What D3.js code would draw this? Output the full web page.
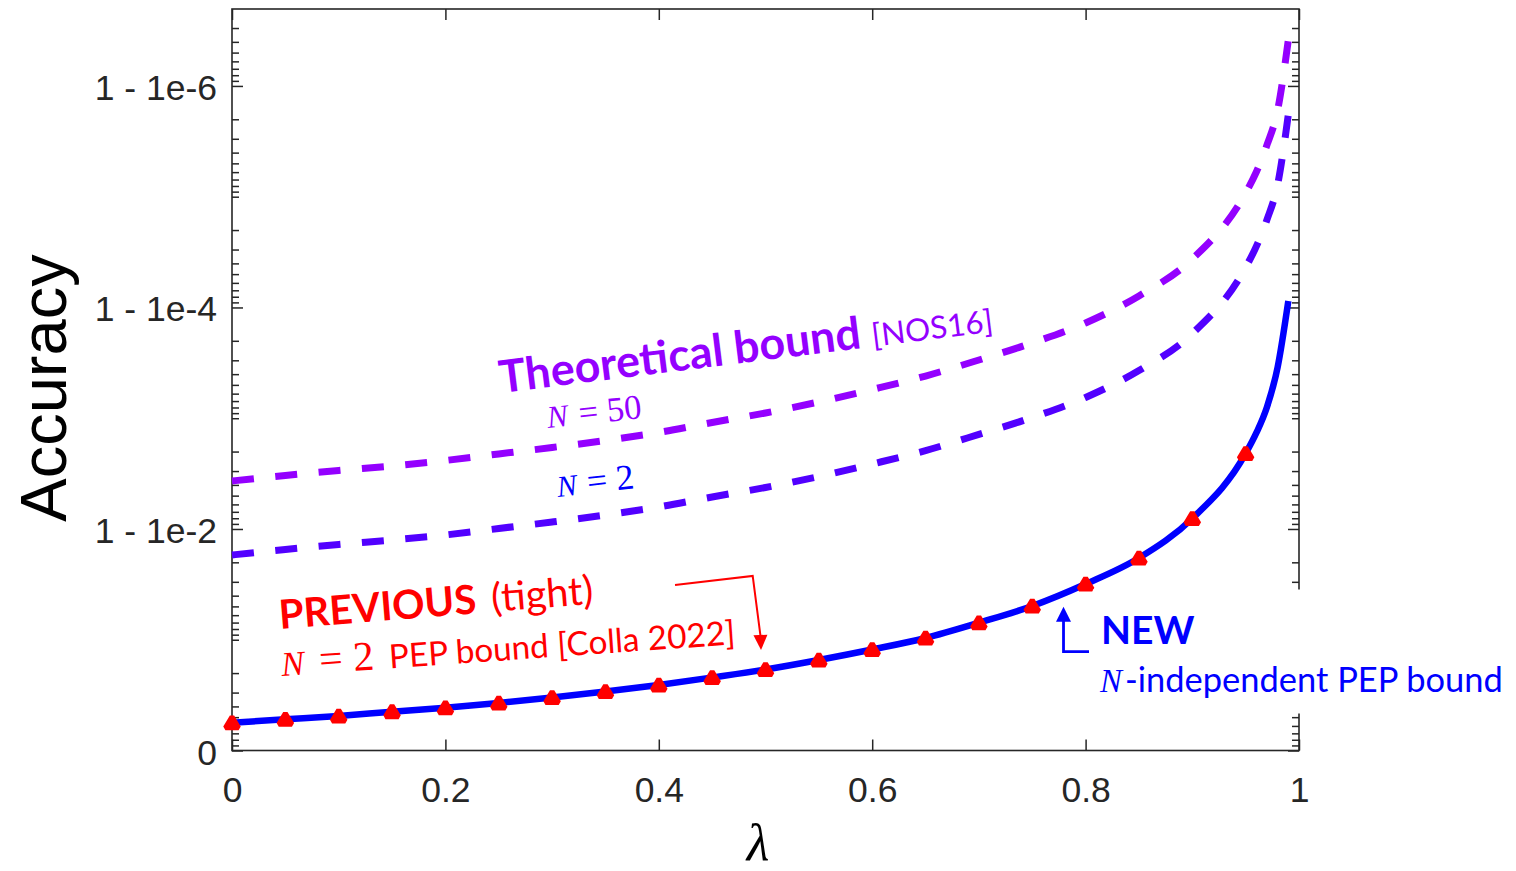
<!DOCTYPE html>
<html><head><meta charset="utf-8">
<script src="https://cdn.jsdelivr.net/npm/d3@7"></script>
<style>body{margin:0;background:#fff;} svg{display:block;}</style>
</head><body>
<svg id="chart" width="1516" height="871"></svg>
<script>
// ---------------- data ----------------
// step size lambda
const lambda = [0,0.05,0.1,0.15,0.2,0.25,0.3,0.35,0.4,0.45,0.5,0.55,0.6,0.65,0.7,0.75,0.8,0.85,0.9,0.95,0.96,0.97,0.98,0.99];
// 1 - accuracy, NEW N-independent PEP bound (solid blue)
const newBound = [0.561,0.523,0.488,0.446,0.411,0.3725,0.332,0.293,0.256,0.219,0.1856,0.1523,0.1225,0.0964,0.0702,0.0496,0.0314,0.01828,0.00804,0.00208,0.001358,0.000791,0.000345,8.73e-5];
// 1 - accuracy, theoretical bound [NOS16], N = 50 (dashed violet)
const theoryN50 = [0.003687,0.003287,0.002963,0.002699,0.002407,0.002102,0.001837,0.001588,0.001345,0.001092,0.000897,0.000713,0.000550,0.000416,0.000298,0.000209,0.000138,7.87e-5,3.65e-5,9.25e-6,5.98e-6,3.41e-6,1.65e-6,3.84e-7];
// 1 - accuracy, theoretical bound [NOS16], N = 2 (dashed blue-violet)
const theoryN2 = [0.01717,0.01531,0.01380,0.01257,0.01133,0.00990,0.00865,0.00748,0.00633,0.00514,0.00422,0.00336,0.00259,0.00196,0.00140,0.000985,0.000649,0.000371,0.000172,4.35e-5,2.81e-5,1.61e-5,7.75e-6,1.81e-6];
// PREVIOUS N = 2 PEP bound (red markers)
const lambdaPrev = [0,0.05,0.1,0.15,0.2,0.25,0.3,0.35,0.4,0.45,0.5,0.55,0.6,0.65,0.7,0.75,0.8,0.85,0.9,0.95];
const previousBound = [0.561,0.523,0.488,0.446,0.411,0.3725,0.332,0.293,0.256,0.219,0.1856,0.1523,0.1225,0.0964,0.0702,0.0496,0.0314,0.01828,0.00804,0.00208];
// ticks
const xTicks = [0,0.2,0.4,0.6,0.8,1];
const xTickLabels = ["0","0.2","0.4","0.6","0.8","1"];
const yTicks = [1,1e-2,1e-4,1e-6];           // values of 1 - accuracy
const yTickLabels = ["0","1 - 1e-2","1 - 1e-4","1 - 1e-6"];

// ---------------- layout ----------------
const svg = d3.select("#chart");
const P = {left:232, right:1299, top:9, bottom:750.5};
const AX = "#262626";
const C50 = "#9400FF", C2 = "#5200FF", CBLUE = "#0000FF", CRED = "#FF0000";
const SANS = "'Liberation Sans', Arial, sans-serif";
const CAL = "Lato, 'Open Sans', sans-serif";
const SERIF = "'Liberation Serif', 'DejaVu Serif', serif";

const x = d3.scaleLinear().domain([0,1]).range([P.left, P.right]);
const y = d3.scaleLog().domain([1, 2.02e-7]).range([P.bottom, P.top]);

const minorTicks = [];
for (let p = -1; p >= -7; p--) for (let k = 1; k <= 9; k++) {
  const v = k * Math.pow(10, p);
  if (v >= 2.02e-7 && v < 1 && !yTicks.some(t => Math.abs(t - v) / t < 1e-9)) minorTicks.push(v);
}

function styleAxis(g){
  g.select(".domain").remove();
  g.selectAll(".tick line").attr("stroke", AX).attr("stroke-width", 1.5);
  g.selectAll(".tick text").attr("fill", AX).attr("font-family", SANS).attr("font-size", 35.5);
}
// left
svg.append("g").attr("transform",`translate(${P.left},0)`)
  .call(d3.axisLeft(y).tickValues(yTicks).tickFormat((d,i)=>yTickLabels[i]).tickSizeInner(-11).tickSizeOuter(0).tickPadding(15))
  .call(styleAxis)
  .call(g=>g.selectAll(".tick text").attr("dy","0.38em"));
svg.append("g").attr("transform",`translate(${P.left},0)`)
  .call(d3.axisLeft(y).tickValues(minorTicks).tickFormat("").tickSizeInner(-7).tickSizeOuter(0))
  .call(styleAxis);
// right
svg.append("g").attr("transform",`translate(${P.right},0)`)
  .call(d3.axisRight(y).tickValues(yTicks).tickFormat("").tickSizeInner(-11).tickSizeOuter(0))
  .call(styleAxis);
svg.append("g").attr("transform",`translate(${P.right},0)`)
  .call(d3.axisRight(y).tickValues(minorTicks).tickFormat("").tickSizeInner(-7).tickSizeOuter(0))
  .call(styleAxis);
// bottom
svg.append("g").attr("transform",`translate(0,${P.bottom})`)
  .call(d3.axisBottom(x).tickValues(xTicks).tickFormat((d,i)=>xTickLabels[i]).tickSizeInner(-11).tickSizeOuter(0).tickPadding(26))
  .call(styleAxis);
// top
svg.append("g").attr("transform",`translate(0,${P.top})`)
  .call(d3.axisTop(x).tickValues(xTicks).tickFormat("").tickSizeInner(-11).tickSizeOuter(0))
  .call(styleAxis);
// frame
svg.append("rect").attr("x",P.left).attr("y",P.top).attr("width",P.right-P.left).attr("height",P.bottom-P.top)
  .attr("fill","none").attr("stroke",AX).attr("stroke-width",1.6);

// axis titles
svg.append("text").attr("transform","translate(66,388) rotate(-90)").attr("text-anchor","middle")
  .attr("font-family",SANS).attr("font-size",65).attr("fill","#000").text("Accuracy");
svg.append("text").attr("x",758).attr("y",860).attr("text-anchor","middle")
  .attr("font-family",SERIF).attr("font-style","italic").attr("font-size",52).attr("fill","#000").text("λ");

// ---------------- curves ----------------
const line = d3.line().x(d=>x(d[0])).y(d=>y(d[1])).curve(d3.curveMonotoneX);
const plot = svg.append("g");
plot.append("path").datum(lambda.map((l,i)=>[l,theoryN50[i]])).attr("d",line)
  .attr("fill","none").attr("stroke",C50).attr("stroke-width",7).attr("stroke-dasharray","22 21.5");
plot.append("path").datum(lambda.map((l,i)=>[l,theoryN2[i]])).attr("d",line)
  .attr("fill","none").attr("stroke",C2).attr("stroke-width",7).attr("stroke-dasharray","22 21.5");
plot.append("path").datum(lambda.map((l,i)=>[l,newBound[i]])).attr("d",line)
  .attr("fill","none").attr("stroke",CBLUE).attr("stroke-width",6.5);
const tri = "M0,-6L6.6,5L-6.6,5Z";
plot.selectAll("path.mk").data(lambdaPrev.map((l,i)=>[l,previousBound[i]])).join("path")
  .attr("class","mk").attr("d",tri).attr("transform",d=>`translate(${x(d[0])},${y(d[1])})`)
  .attr("fill",CRED).attr("stroke",CRED).attr("stroke-width",5).attr("stroke-linejoin","bevel");

// ---------------- annotations (anchors in data coordinates: lambda, log10(1-acc)) ----------------
const px = a => x(a[0]), py = a => y(Math.pow(10, a[1]));
// white text box of the NEW annotation (hides part of the right axis)
const boxTL = [0.8069,-1.4537], boxBR = [1.2034,-0.334];
svg.append("rect").attr("x",px(boxTL)).attr("y",py(boxTL)).attr("width",px(boxBR)-px(boxTL)).attr("height",py(boxBR)-py(boxTL)).attr("fill","#fff");

function label(anchor, angle, parts){
  const g = svg.append("g").attr("transform",`translate(${px(anchor)},${py(anchor)}) rotate(${angle})`);
  parts.forEach(p=>{
    const t = g.append("text").attr("x",p.at).attr("y",0)
      .attr("font-family",p.font).attr("font-size",p.size)
      .attr("font-weight",p.weight||"normal").attr("font-style",p.style||"normal")
      .attr("fill",p.fill).text(p.text);
    if (p.width){ const w = t.node().getComputedTextLength(); t.attr("font-size", p.size*p.width/w); }
  });
}
label([0.2521,-3.228], -7.1, [
  {text:"Theoretical bound", at:0, width:364, size:46, font:CAL, weight:700, fill:C50},
  {text:"[NOS16]", at:375, width:122, size:34, font:CAL, fill:C50}
]);
label([0.2962,-2.912], -6, [
  {text:"N", at:0, width:21, size:28, font:SERIF, style:"italic", fill:C50},
  {text:"= 50", at:32, width:63, size:28, font:SERIF, fill:C50}
]);
label([0.3055,-2.289], -6.4, [
  {text:"N", at:0, width:20, size:28, font:SERIF, style:"italic", fill:CBLUE},
  {text:"= 2", at:30.5, width:47, size:28, font:SERIF, fill:CBLUE}
]);
label([0.0450,-1.097], -4.6, [
  {text:"PREVIOUS", at:0, width:198, size:44, font:CAL, weight:700, fill:CRED},
  {text:"(tight)", at:213, width:102, size:40, font:CAL, fill:CRED}
]);
label([0.0469,-0.673], -4, [
  {text:"N", at:0, width:23, size:34, font:SERIF, style:"italic", fill:CRED},
  {text:"= 2", at:38, width:55, size:34, font:SERIF, fill:CRED},
  {text:"PEP bound [Colla 2022]", at:108, width:347, size:36, font:CAL, fill:CRED}
]);
label([0.8144,-0.966], 0, [
  {text:"NEW", at:0, width:93.5, size:44, font:CAL, weight:700, fill:CBLUE}
]);
label([0.8135,-0.528], 0, [
  {text:"N", at:0, width:22, size:32, font:SERIF, style:"italic", fill:CBLUE},
  {text:"-independent PEP bound", at:25, width:378, size:34, font:CAL, fill:CBLUE}
]);

// arrows
function arrow(points, tip, color, width, head){
  svg.append("path").attr("d", d3.line()(points.map(p=>[px(p),py(p)])))
    .attr("fill","none").attr("stroke",color).attr("stroke-width",width);
  const last = points[points.length-1];
  const tx = px(tip), ty = py(tip), bx = px(last), by = py(last);
  const ang = Math.atan2(ty-by, tx-bx);
  const L = head[0], Wd = head[1];
  const p1 = [tx - L*Math.cos(ang) + Wd*Math.sin(ang), ty - L*Math.sin(ang) - Wd*Math.cos(ang)];
  const p2 = [tx - L*Math.cos(ang) - Wd*Math.sin(ang), ty - L*Math.sin(ang) + Wd*Math.cos(ang)];
  svg.append("path").attr("d",`M${tx},${ty}L${p1}L${p2}Z`).attr("fill",color);
}
arrow([[0.4152,-1.494],[0.4880,-1.576],[0.4953,-1.034]], [0.4958,-0.9074], CRED, 2, [15,7]);
arrow([[0.8032,-0.892],[0.7793,-0.892],[0.7793,-1.169]], [0.7793,-1.298], CBLUE, 2.8, [15,7.5]);
</script>
</body></html>
